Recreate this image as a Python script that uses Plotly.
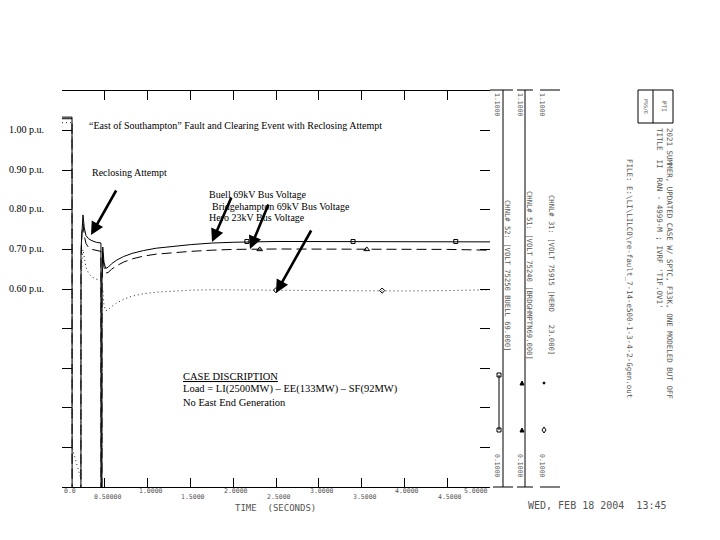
import plotly.graph_objects as go

# ---------------- data ----------------
time_s = [0.0, 0.117, 0.118, 0.221, 0.222, 0.232, 0.245, 0.26, 0.28, 0.31, 0.35, 0.40,
          0.455, 0.456, 0.466, 0.467, 0.476, 0.49, 0.51, 0.54, 0.58, 0.64, 0.72, 0.82,
          0.95, 1.1, 1.3, 1.5, 1.75, 2.0, 2.5, 3.0, 3.5, 4.0, 4.5, 5.0]

buell_69kv = [1.034, 1.034, 0.04, 0.04, 0.70, 0.76, 0.787, 0.755, 0.735, 0.727, 0.722, 0.718,
              0.716, 0.04, 0.04, 0.62, 0.706, 0.668, 0.652, 0.655, 0.664, 0.673, 0.682, 0.690,
              0.697, 0.703, 0.708, 0.712, 0.716, 0.718, 0.720, 0.720, 0.720, 0.720, 0.720, 0.719]

bridgehampton_69kv = [1.030, 1.030, 0.03, 0.03, 0.66, 0.74, 0.765, 0.735, 0.715, 0.705, 0.700, 0.697,
                      0.695, 0.03, 0.03, 0.60, 0.690, 0.655, 0.640, 0.642, 0.650, 0.659, 0.668, 0.676,
                      0.683, 0.688, 0.692, 0.695, 0.698, 0.700, 0.701, 0.701, 0.701, 0.700, 0.700, 0.698]

hero_23kv = [1.020, 1.020, 0.20, 0.12, 0.58, 0.67, 0.70, 0.675, 0.655, 0.640, 0.630, 0.625,
             0.622, 0.12, 0.11, 0.52, 0.600, 0.560, 0.545, 0.548, 0.556, 0.565, 0.574, 0.582,
             0.588, 0.592, 0.595, 0.597, 0.598, 0.598, 0.597, 0.596, 0.595, 0.595, 0.596, 0.598]

buell_mark_t = [2.16, 3.40, 4.60]
buell_mark_v = [0.720, 0.720, 0.720]
bridge_mark_t = [2.31, 3.56]
bridge_mark_v = [0.700, 0.700]
hero_mark_t = [2.50, 3.74]
hero_mark_v = [0.597, 0.596]

x_tick_vals = [0.0, 0.5, 1.0, 1.5, 2.0, 2.5, 3.0, 3.5, 4.0, 4.5, 5.0]
x_tick_text = ["0.0", "0.50000", "1.0000", "1.5000", "2.0000", "2.5000",
               "3.0000", "3.5000", "4.0000", "4.5000", "5.0000"]
y_tick_vals = [0.2, 0.3, 0.4, 0.5, 0.6, 0.7, 0.8, 0.9, 1.0]
pu_vals = [1.00, 0.90, 0.80, 0.70, 0.60]
pu_text = ["1.00 p.u.", "0.90 p.u.", "0.80 p.u.", "0.70 p.u.", "0.60 p.u."]

# ---------------- geometry helpers (screen pixels -> paper) ----------------
W, H = 720, 540
OFF = 8               # page body margin of the browser
X0, X1 = 62, 490      # plot area left/right (screen pixels)
Y0, Y1 = 91, 487      # plot area top/bottom (screen pixels)
YMIN, YMAX = 0.1, 1.1


def px(x):
    return (x - OFF) / W


def py(y):
    return 1 - (y - OFF) / H


def ypix(v):
    return Y1 - (v - YMIN) / (YMAX - YMIN) * (Y1 - Y0)


def xpix(t):
    return X0 + t / 5.0 * (X1 - X0)


SERIF = "Liberation Serif, Times New Roman, serif"
MONO = "DejaVu Sans Mono, monospace"

fig = go.Figure()
fig.add_trace(go.Scatter(x=time_s, y=buell_69kv, mode="lines",
                         line=dict(color="black", width=1), name="Buell 69kV"))
fig.add_trace(go.Scatter(x=time_s, y=bridgehampton_69kv, mode="lines",
                         line=dict(color="black", width=1, dash="10px,5px"), name="Bridgehampton 69kV"))
fig.add_trace(go.Scatter(x=time_s, y=hero_23kv, mode="lines",
                         line=dict(color="#222", width=1, dash="1px,3px"), name="Hero 23kV"))
fig.add_trace(go.Scatter(x=buell_mark_t, y=buell_mark_v, mode="markers",
                         marker=dict(symbol="square-open", size=4, color="black", line=dict(width=1))))
fig.add_trace(go.Scatter(x=bridge_mark_t, y=bridge_mark_v, mode="markers",
                         marker=dict(symbol="triangle-up-open", size=5, color="black", line=dict(width=1))))
fig.add_trace(go.Scatter(x=hero_mark_t, y=hero_mark_v, mode="markers",
                         marker=dict(symbol="diamond-open", size=4, color="black", line=dict(width=1))))

annotations = []


def ann(text, x, y, size=10, family=SERIF, xanchor="left", yanchor="middle",
        angle=0, color="black", align="left"):
    annotations.append(dict(text=text, x=px(x), y=py(y), xref="paper", yref="paper",
                            xanchor=xanchor, yanchor=yanchor, showarrow=False,
                            textangle=angle, align=align,
                            font=dict(family=family, size=size, color=color)))


def arrow(hx, hy, tx, ty):
    annotations.append(dict(text="", x=px(hx), y=py(hy), xref="paper", yref="paper",
                            axref="pixel", ayref="pixel", ax=tx - hx, ay=ty - hy,
                            showarrow=True, arrowhead=2, arrowsize=1.0, arrowwidth=2.6,
                            arrowcolor="black"))


# human-added text
ann("\u201cEast of Southampton\u201d Fault and Clearing Event with Reclosing Attempt", 87, 125, 10)
ann("Reclosing Attempt", 90, 172, 10)
ann("Buell 69kV Bus Voltage", 207, 194, 10)
ann("Bridgehampton 69kV Bus Voltage", 210, 206, 10)
ann("Hero 23kV Bus Voltage", 207, 218, 10)
ann("<u>CASE DISCRIPTION</u>", 181, 376, 10.5)
ann("Load = LI(2500MW) \u2013 EE(133MW) \u2013 SF(92MW)", 181, 389, 10.5)
ann("No East End Generation", 181, 402, 10.5)
for v, t in zip(pu_vals, pu_text):
    ann(t, 7, ypix(v) - 1, 10)

arrow(91, 235, 117, 189)
arrow(212, 242, 232, 196)
arrow(250, 249, 269, 203)
arrow(276, 293, 312, 229)

# PSS/E axis labels (alternating rows)
GRAY = "#555"
for i, (v, t) in enumerate(zip(x_tick_vals, x_tick_text)):
    yy = 491 if i % 2 == 0 else 497
    xa = "center"
    xx = xpix(v) + 3
    if i == 0:
        xa, xx = "left", xpix(v)
    if i == len(x_tick_vals) - 1:
        xa, xx = "right", xpix(v)
    ann(t, xx, yy, 6.5, MONO, xanchor=xa, color=GRAY)
ann("TIME  (SECONDS)", 275, 508, 9, MONO, xanchor="center", color=GRAY)

# channel scale columns
for cx in (497, 520, 542):
    ann("1.1000", cx, 105, 6.5, MONO, xanchor="center", angle=90, color=GRAY)
    ann("0.1000", cx, 466, 6.5, MONO, xanchor="center", angle=90, color=GRAY)
ann("CHNL# 52: [VOLT 75250 BUELL 69.000]", 508, 275, 7.2, MONO, xanchor="center", angle=90, color=GRAY)
ann("CHNL# 51: [VOLT 75240 [BRDGHMPTN69.000]", 530, 275, 7.2, MONO, xanchor="center", angle=90, color=GRAY)
ann("CHNL# 31: [VOLT 75915 [HERO   23.000]", 552, 275, 7.2, MONO, xanchor="center", angle=90, color=GRAY)

ann("2021 SUMMER, UPDATED CASE W/ SPTC, F33K, ONE MODELED BUT OFF<br>"
    "TITLE  II  RAN - 4999-M ; IVRF 'T1F.OV1'",
    665, 263, 7.5, MONO, xanchor="center", angle=90, color=GRAY)
ann("FILE: E:\\LI\\LILCO\\re-fault_7-14-e500-1-3-4-2-Ggen.out",
    630, 278, 7.5, MONO, xanchor="center", angle=90, color=GRAY)
ann("WED, FEB 18 2004  13:45", 597, 505, 10, MONO, xanchor="center", color=GRAY)
ann("PTI", 664, 106, 6, MONO, xanchor="center", angle=90, color=GRAY)
ann("PSS/E", 646, 106, 5, MONO, xanchor="center", angle=90, color=GRAY)

shapes = []


def seg(x0, y0, x1, y1, w=1, color="black"):
    shapes.append(dict(type="line", xref="paper", yref="paper",
                       x0=px(x0), y0=py(y0), x1=px(x1), y1=py(y1),
                       line=dict(color=color, width=w)))


seg(490, 90, 513, 90)
seg(517, 90, 533, 90)
seg(540, 90, 560, 90)
seg(493, 487, 513, 487)
seg(517, 487, 533, 487)
seg(540, 487, 560, 487)
seg(503, 90, 503, 487)
seg(525, 90, 525, 487)
# channel line-style samples
seg(499, 375, 499, 430)
shapes.append(dict(type="rect", xref="paper", yref="paper", x0=px(497), x1=px(501),
                   y0=py(373), y1=py(377), line=dict(color="black", width=1)))
shapes.append(dict(type="rect", xref="paper", yref="paper", x0=px(497), x1=px(501),
                   y0=py(428), y1=py(432), line=dict(color="black", width=1)))
for yy in (383, 430):
    shapes.append(dict(type="path", xref="paper", yref="paper",
                       path=f"M {px(520)} {py(yy + 2)} L {px(522)} {py(yy - 2)} L {px(524)} {py(yy + 2)} Z",
                       line=dict(color="black", width=1), fillcolor="black"))
shapes.append(dict(type="circle", xref="paper", yref="paper", x0=px(543), x1=px(545),
                   y0=py(382), y1=py(384), line=dict(color="black", width=1), fillcolor="black"))
shapes.append(dict(type="path", xref="paper", yref="paper",
                   path=f"M {px(544)} {py(427)} L {px(546)} {py(430)} L {px(544)} {py(433)} L {px(542)} {py(430)} Z",
                   line=dict(color="black", width=1)))
# logo box
shapes.append(dict(type="rect", xref="paper", yref="paper", x0=px(638), x1=px(673),
                   y0=py(123), y1=py(90), line=dict(color="black", width=1)))
seg(653, 90, 653, 123)

fig.update_layout(
    width=W, height=H, autosize=False,
    margin=dict(l=0, r=0, t=0, b=0),
    paper_bgcolor="white", plot_bgcolor="white",
    showlegend=False,
    xaxis=dict(domain=[px(X0), px(X1)], range=[0, 5], showgrid=False, zeroline=False,
               showline=True, linecolor="black", linewidth=1, mirror="ticks",
               ticks="inside", ticklen=9, tickcolor="black", tickvals=x_tick_vals[1:-1],
               showticklabels=False, fixedrange=True),
    yaxis=dict(domain=[py(Y1), py(Y0)], range=[YMIN, YMAX], showgrid=False, zeroline=False,
               showline=False, linecolor="rgba(0,0,0,0)", mirror="ticks", ticks="inside",
               ticklen=10, tickcolor="black",
               tickvals=y_tick_vals, showticklabels=False, fixedrange=True),
    annotations=annotations,
    shapes=shapes,
)

fig.write_html("out.html")
